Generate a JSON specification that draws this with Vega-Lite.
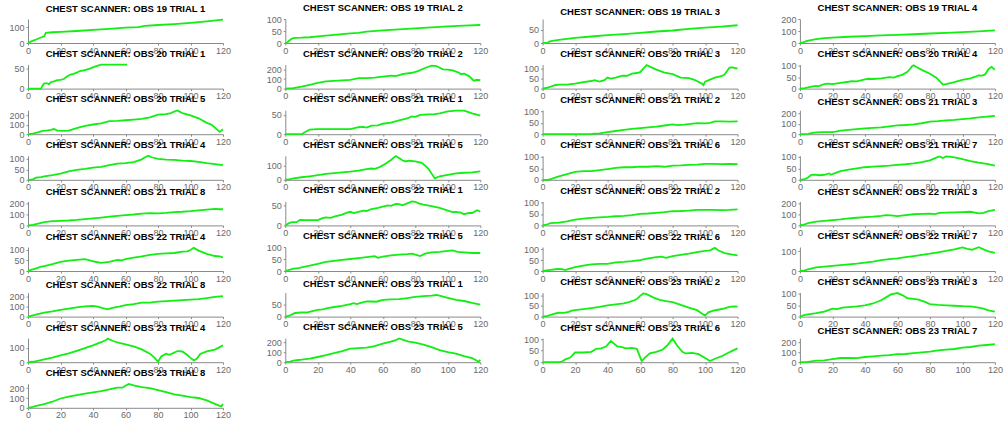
{
  "$schema": "https://vega.github.io/schema/vega-lite/v6.json",
  "columns": 4,
  "spacing": {"row": 21.6, "column": 62.3},
  "bounds": "flush",
  "padding": {"left": 8, "top": 2, "right": 5, "bottom": 5},
  "background": "white",
  "datasets": {
    "o19t1": [{"x":0,"y":0},{"x":2,"y":10},{"x":5,"y":22},{"x":8,"y":35},{"x":10,"y":42},{"x":11,"y":65},{"x":15,"y":68},{"x":20,"y":70},{"x":30,"y":76},{"x":40,"y":83},{"x":50,"y":90},{"x":60,"y":97},{"x":68,"y":100},{"x":72,"y":108},{"x":80,"y":114},{"x":90,"y":120},{"x":100,"y":128},{"x":110,"y":137},{"x":120,"y":148}],
    "o19t2": [{"x":0,"y":0},{"x":1,"y":0},{"x":2,"y":8},{"x":4,"y":18},{"x":6,"y":21},{"x":10,"y":22},{"x":15,"y":24},{"x":20,"y":28},{"x":30,"y":34},{"x":40,"y":40},{"x":45,"y":42},{"x":50,"y":47},{"x":60,"y":53},{"x":70,"y":57},{"x":80,"y":61},{"x":90,"y":65},{"x":100,"y":69},{"x":110,"y":72},{"x":120,"y":75}],
    "o19t3": [{"x":0,"y":0},{"x":3,"y":0},{"x":4,"y":5},{"x":6,"y":8},{"x":10,"y":12},{"x":15,"y":16},{"x":20,"y":20},{"x":30,"y":25},{"x":40,"y":30},{"x":50,"y":34},{"x":60,"y":39},{"x":70,"y":44},{"x":80,"y":48},{"x":90,"y":54},{"x":100,"y":59},{"x":110,"y":63},{"x":120,"y":68}],
    "o19t4": [{"x":0,"y":0},{"x":2,"y":5},{"x":4,"y":15},{"x":6,"y":22},{"x":10,"y":32},{"x":15,"y":40},{"x":20,"y":45},{"x":30,"y":52},{"x":40,"y":58},{"x":50,"y":63},{"x":60,"y":68},{"x":70,"y":73},{"x":80,"y":79},{"x":90,"y":84},{"x":100,"y":90},{"x":110,"y":97},{"x":120,"y":105}],
    "o20t1": [{"x":0,"y":0},{"x":8,"y":0},{"x":9,"y":8},{"x":10,"y":13},{"x":12,"y":13},{"x":13,"y":11},{"x":14,"y":16},{"x":16,"y":18},{"x":18,"y":21},{"x":20,"y":22},{"x":22,"y":24},{"x":24,"y":30},{"x":26,"y":35},{"x":28,"y":37},{"x":30,"y":40},{"x":32,"y":44},{"x":35,"y":46},{"x":38,"y":50},{"x":40,"y":53},{"x":42,"y":56},{"x":45,"y":60},{"x":50,"y":60},{"x":55,"y":60},{"x":61,"y":60}],
    "o20t2": [{"x":0,"y":0},{"x":5,"y":5},{"x":10,"y":20},{"x":15,"y":40},{"x":20,"y":60},{"x":25,"y":75},{"x":30,"y":80},{"x":40,"y":90},{"x":45,"y":110},{"x":50,"y":110},{"x":55,"y":115},{"x":60,"y":125},{"x":65,"y":135},{"x":68,"y":130},{"x":72,"y":150},{"x":78,"y":165},{"x":82,"y":185},{"x":86,"y":215},{"x":90,"y":240},{"x":93,"y":235},{"x":97,"y":200},{"x":100,"y":198},{"x":103,"y":190},{"x":107,"y":165},{"x":108,"y":150},{"x":110,"y":155},{"x":113,"y":130},{"x":116,"y":82},{"x":118,"y":92},{"x":120,"y":87}],
    "o20t3": [{"x":0,"y":0},{"x":2,"y":3},{"x":5,"y":10},{"x":8,"y":18},{"x":10,"y":20},{"x":15,"y":20},{"x":20,"y":25},{"x":25,"y":32},{"x":30,"y":38},{"x":32,"y":42},{"x":35,"y":35},{"x":38,"y":42},{"x":40,"y":55},{"x":42,"y":50},{"x":45,"y":55},{"x":48,"y":62},{"x":50,"y":65},{"x":52,"y":64},{"x":55,"y":75},{"x":58,"y":78},{"x":60,"y":82},{"x":62,"y":100},{"x":64,"y":118},{"x":66,"y":110},{"x":70,"y":95},{"x":75,"y":80},{"x":80,"y":72},{"x":85,"y":55},{"x":90,"y":52},{"x":93,"y":45},{"x":95,"y":38},{"x":98,"y":25},{"x":99,"y":17},{"x":100,"y":35},{"x":103,"y":45},{"x":106,"y":55},{"x":110,"y":62},{"x":112,"y":70},{"x":115,"y":105},{"x":117,"y":106},{"x":120,"y":100}],
    "o20t4": [{"x":0,"y":0},{"x":3,"y":2},{"x":5,"y":5},{"x":8,"y":10},{"x":10,"y":12},{"x":11,"y":10},{"x":13,"y":14},{"x":15,"y":20},{"x":17,"y":22},{"x":20,"y":20},{"x":25,"y":25},{"x":30,"y":30},{"x":32,"y":33},{"x":35,"y":32},{"x":40,"y":40},{"x":42,"y":43},{"x":45,"y":42},{"x":50,"y":45},{"x":55,"y":50},{"x":58,"y":48},{"x":60,"y":55},{"x":63,"y":60},{"x":66,"y":72},{"x":68,"y":88},{"x":69,"y":98},{"x":70,"y":102},{"x":72,"y":93},{"x":75,"y":82},{"x":80,"y":65},{"x":84,"y":48},{"x":87,"y":25},{"x":88,"y":18},{"x":90,"y":20},{"x":95,"y":28},{"x":100,"y":38},{"x":105,"y":45},{"x":108,"y":52},{"x":110,"y":58},{"x":112,"y":57},{"x":114,"y":62},{"x":116,"y":85},{"x":118,"y":95},{"x":120,"y":82}],
    "o20t5": [{"x":0,"y":0},{"x":3,"y":5},{"x":6,"y":20},{"x":9,"y":35},{"x":12,"y":40},{"x":14,"y":45},{"x":16,"y":55},{"x":18,"y":38},{"x":22,"y":35},{"x":25,"y":38},{"x":28,"y":55},{"x":32,"y":75},{"x":36,"y":90},{"x":40,"y":103},{"x":45,"y":115},{"x":50,"y":138},{"x":55,"y":142},{"x":60,"y":148},{"x":65,"y":155},{"x":70,"y":162},{"x":75,"y":180},{"x":80,"y":207},{"x":85,"y":214},{"x":88,"y":225},{"x":90,"y":241},{"x":92,"y":252},{"x":95,"y":224},{"x":100,"y":200},{"x":105,"y":169},{"x":110,"y":121},{"x":113,"y":100},{"x":115,"y":70},{"x":118,"y":25},{"x":120,"y":52}],
    "o21t1": [{"x":0,"y":0},{"x":10,"y":0},{"x":12,"y":5},{"x":15,"y":12},{"x":20,"y":13},{"x":30,"y":13},{"x":40,"y":13},{"x":45,"y":18},{"x":48,"y":19},{"x":50,"y":17},{"x":53,"y":22},{"x":57,"y":23},{"x":60,"y":27},{"x":65,"y":30},{"x":70,"y":36},{"x":75,"y":41},{"x":78,"y":46},{"x":80,"y":45},{"x":83,"y":50},{"x":88,"y":51},{"x":92,"y":52},{"x":95,"y":54},{"x":100,"y":59},{"x":105,"y":61},{"x":110,"y":61},{"x":115,"y":54},{"x":120,"y":48}],
    "o21t2": [{"x":0,"y":0},{"x":25,"y":0},{"x":30,"y":1},{"x":35,"y":4},{"x":40,"y":9},{"x":45,"y":14},{"x":50,"y":19},{"x":55,"y":23},{"x":60,"y":27},{"x":65,"y":30},{"x":70,"y":33},{"x":75,"y":38},{"x":80,"y":43},{"x":83,"y":40},{"x":87,"y":42},{"x":90,"y":44},{"x":95,"y":48},{"x":100,"y":47},{"x":103,"y":50},{"x":106,"y":56},{"x":110,"y":56},{"x":115,"y":55},{"x":120,"y":56}],
    "o21t3": [{"x":0,"y":0},{"x":5,"y":3},{"x":8,"y":12},{"x":10,"y":18},{"x":15,"y":20},{"x":20,"y":20},{"x":22,"y":25},{"x":25,"y":35},{"x":30,"y":42},{"x":35,"y":48},{"x":40,"y":55},{"x":45,"y":60},{"x":50,"y":65},{"x":55,"y":75},{"x":60,"y":85},{"x":65,"y":88},{"x":70,"y":95},{"x":75,"y":105},{"x":80,"y":120},{"x":85,"y":125},{"x":90,"y":132},{"x":95,"y":137},{"x":100,"y":145},{"x":105,"y":152},{"x":110,"y":162},{"x":115,"y":168},{"x":120,"y":175}],
    "o21t4": [{"x":0,"y":0},{"x":3,"y":2},{"x":5,"y":10},{"x":8,"y":13},{"x":10,"y":16},{"x":15,"y":22},{"x":20,"y":30},{"x":25,"y":40},{"x":30,"y":48},{"x":35,"y":52},{"x":40,"y":58},{"x":45,"y":62},{"x":50,"y":70},{"x":55,"y":78},{"x":60,"y":80},{"x":65,"y":85},{"x":70,"y":98},{"x":72,"y":108},{"x":74,"y":115},{"x":76,"y":108},{"x":80,"y":100},{"x":85,"y":97},{"x":90,"y":95},{"x":95,"y":92},{"x":100,"y":90},{"x":105,"y":86},{"x":110,"y":80},{"x":115,"y":75},{"x":120,"y":70}],
    "o21t5": [{"x":0,"y":0},{"x":3,"y":5},{"x":5,"y":10},{"x":10,"y":18},{"x":15,"y":25},{"x":20,"y":33},{"x":25,"y":42},{"x":30,"y":48},{"x":35,"y":53},{"x":40,"y":58},{"x":45,"y":65},{"x":50,"y":75},{"x":53,"y":80},{"x":55,"y":78},{"x":58,"y":90},{"x":62,"y":115},{"x":65,"y":140},{"x":68,"y":168},{"x":70,"y":155},{"x":72,"y":138},{"x":74,"y":130},{"x":76,"y":135},{"x":80,"y":130},{"x":84,"y":120},{"x":88,"y":80},{"x":92,"y":10},{"x":95,"y":25},{"x":100,"y":35},{"x":105,"y":45},{"x":110,"y":50},{"x":115,"y":52},{"x":120,"y":60}],
    "o21t6": [{"x":0,"y":0},{"x":3,"y":0},{"x":5,"y":3},{"x":10,"y":15},{"x":15,"y":25},{"x":20,"y":35},{"x":25,"y":38},{"x":30,"y":38},{"x":35,"y":42},{"x":40,"y":47},{"x":45,"y":52},{"x":50,"y":55},{"x":55,"y":55},{"x":60,"y":58},{"x":65,"y":57},{"x":70,"y":60},{"x":75,"y":57},{"x":80,"y":62},{"x":85,"y":63},{"x":90,"y":65},{"x":95,"y":66},{"x":100,"y":70},{"x":105,"y":70},{"x":110,"y":69},{"x":115,"y":70},{"x":120,"y":68}],
    "o21t7": [{"x":0,"y":0},{"x":3,"y":3},{"x":5,"y":10},{"x":7,"y":22},{"x":9,"y":23},{"x":12,"y":20},{"x":15,"y":22},{"x":18,"y":28},{"x":19,"y":22},{"x":22,"y":30},{"x":25,"y":38},{"x":30,"y":45},{"x":35,"y":50},{"x":40,"y":55},{"x":45,"y":58},{"x":50,"y":60},{"x":55,"y":62},{"x":60,"y":65},{"x":65,"y":68},{"x":70,"y":72},{"x":75,"y":77},{"x":80,"y":85},{"x":84,"y":97},{"x":86,"y":102},{"x":88,"y":95},{"x":90,"y":102},{"x":93,"y":100},{"x":96,"y":97},{"x":100,"y":90},{"x":105,"y":82},{"x":110,"y":75},{"x":115,"y":70},{"x":120,"y":62}],
    "o21t8": [{"x":0,"y":0},{"x":3,"y":5},{"x":5,"y":12},{"x":10,"y":30},{"x":15,"y":40},{"x":20,"y":42},{"x":25,"y":45},{"x":30,"y":50},{"x":35,"y":58},{"x":40,"y":65},{"x":45,"y":72},{"x":50,"y":80},{"x":55,"y":88},{"x":60,"y":95},{"x":65,"y":100},{"x":70,"y":108},{"x":75,"y":112},{"x":80,"y":110},{"x":85,"y":115},{"x":90,"y":122},{"x":95,"y":125},{"x":100,"y":130},{"x":105,"y":137},{"x":110,"y":145},{"x":115,"y":152},{"x":118,"y":148},{"x":120,"y":148}],
    "o22t1": [{"x":0,"y":0},{"x":2,"y":5},{"x":4,"y":8},{"x":7,"y":8},{"x":9,"y":14},{"x":12,"y":13},{"x":20,"y":13},{"x":23,"y":18},{"x":25,"y":20},{"x":28,"y":19},{"x":30,"y":22},{"x":35,"y":27},{"x":38,"y":32},{"x":40,"y":34},{"x":42,"y":31},{"x":45,"y":34},{"x":48,"y":37},{"x":50,"y":36},{"x":53,"y":41},{"x":57,"y":44},{"x":60,"y":47},{"x":63,"y":50},{"x":65,"y":49},{"x":68,"y":54},{"x":70,"y":53},{"x":72,"y":50},{"x":75,"y":55},{"x":78,"y":60},{"x":80,"y":59},{"x":82,"y":55},{"x":85,"y":52},{"x":90,"y":48},{"x":95,"y":44},{"x":100,"y":37},{"x":103,"y":33},{"x":105,"y":34},{"x":108,"y":32},{"x":110,"y":28},{"x":113,"y":31},{"x":115,"y":31},{"x":118,"y":38},{"x":120,"y":34}],
    "o22t2": [{"x":0,"y":0},{"x":3,"y":5},{"x":5,"y":10},{"x":10,"y":12},{"x":15,"y":18},{"x":20,"y":25},{"x":25,"y":30},{"x":30,"y":33},{"x":35,"y":35},{"x":40,"y":37},{"x":45,"y":40},{"x":50,"y":42},{"x":55,"y":45},{"x":60,"y":50},{"x":65,"y":52},{"x":70,"y":55},{"x":75,"y":58},{"x":80,"y":62},{"x":85,"y":63},{"x":90,"y":65},{"x":95,"y":68},{"x":100,"y":68},{"x":105,"y":68},{"x":110,"y":67},{"x":115,"y":68},{"x":120,"y":70}],
    "o22t3": [{"x":0,"y":0},{"x":3,"y":10},{"x":5,"y":20},{"x":10,"y":35},{"x":15,"y":42},{"x":20,"y":48},{"x":25,"y":55},{"x":30,"y":65},{"x":35,"y":70},{"x":40,"y":75},{"x":45,"y":80},{"x":50,"y":88},{"x":53,"y":95},{"x":56,"y":92},{"x":60,"y":85},{"x":65,"y":95},{"x":70,"y":102},{"x":75,"y":105},{"x":80,"y":108},{"x":83,"y":103},{"x":86,"y":115},{"x":90,"y":118},{"x":95,"y":120},{"x":100,"y":122},{"x":105,"y":125},{"x":110,"y":110},{"x":113,"y":115},{"x":116,"y":130},{"x":120,"y":142}],
    "o22t4": [{"x":0,"y":0},{"x":2,"y":5},{"x":5,"y":12},{"x":8,"y":20},{"x":10,"y":23},{"x":15,"y":32},{"x":20,"y":43},{"x":22,"y":45},{"x":25,"y":48},{"x":30,"y":52},{"x":35,"y":55},{"x":38,"y":50},{"x":42,"y":42},{"x":45,"y":38},{"x":50,"y":43},{"x":55,"y":52},{"x":58,"y":50},{"x":60,"y":56},{"x":65,"y":62},{"x":70,"y":68},{"x":75,"y":75},{"x":80,"y":80},{"x":85,"y":82},{"x":90,"y":84},{"x":95,"y":90},{"x":98,"y":92},{"x":100,"y":98},{"x":102,"y":108},{"x":105,"y":95},{"x":110,"y":80},{"x":115,"y":70},{"x":118,"y":68},{"x":120,"y":63}],
    "o22t5": [{"x":0,"y":0},{"x":2,"y":4},{"x":5,"y":10},{"x":8,"y":12},{"x":10,"y":15},{"x":15,"y":22},{"x":20,"y":30},{"x":25,"y":38},{"x":30,"y":42},{"x":35,"y":46},{"x":40,"y":50},{"x":45,"y":54},{"x":50,"y":58},{"x":55,"y":62},{"x":57,"y":55},{"x":60,"y":60},{"x":65,"y":65},{"x":70,"y":68},{"x":75,"y":70},{"x":78,"y":72},{"x":80,"y":68},{"x":83,"y":62},{"x":86,"y":72},{"x":90,"y":78},{"x":95,"y":80},{"x":100,"y":84},{"x":103,"y":86},{"x":106,"y":80},{"x":110,"y":78},{"x":115,"y":75},{"x":120,"y":75}],
    "o22t6": [{"x":0,"y":0},{"x":5,"y":5},{"x":8,"y":8},{"x":10,"y":10},{"x":12,"y":8},{"x":14,"y":4},{"x":16,"y":10},{"x":20,"y":18},{"x":25,"y":25},{"x":30,"y":30},{"x":35,"y":33},{"x":40,"y":33},{"x":45,"y":40},{"x":50,"y":42},{"x":55,"y":45},{"x":60,"y":50},{"x":65,"y":58},{"x":70,"y":64},{"x":73,"y":66},{"x":76,"y":60},{"x":80,"y":68},{"x":85,"y":74},{"x":90,"y":80},{"x":95,"y":87},{"x":100,"y":92},{"x":103,"y":95},{"x":106,"y":106},{"x":108,"y":95},{"x":112,"y":82},{"x":116,"y":76},{"x":120,"y":72}],
    "o22t7": [{"x":0,"y":0},{"x":3,"y":3},{"x":5,"y":8},{"x":10,"y":18},{"x":15,"y":22},{"x":20,"y":26},{"x":25,"y":30},{"x":30,"y":34},{"x":35,"y":38},{"x":40,"y":43},{"x":45,"y":48},{"x":50,"y":55},{"x":55,"y":60},{"x":60,"y":64},{"x":65,"y":70},{"x":70,"y":76},{"x":75,"y":82},{"x":80,"y":88},{"x":85,"y":95},{"x":90,"y":102},{"x":95,"y":110},{"x":100,"y":120},{"x":103,"y":112},{"x":106,"y":108},{"x":110,"y":121},{"x":113,"y":110},{"x":116,"y":100},{"x":120,"y":92}],
    "o22t8": [{"x":0,"y":0},{"x":3,"y":12},{"x":6,"y":25},{"x":10,"y":40},{"x":15,"y":52},{"x":20,"y":68},{"x":25,"y":80},{"x":30,"y":92},{"x":35,"y":102},{"x":40,"y":108},{"x":43,"y":100},{"x":46,"y":85},{"x":49,"y":72},{"x":52,"y":88},{"x":56,"y":100},{"x":60,"y":115},{"x":65,"y":125},{"x":70,"y":140},{"x":75,"y":140},{"x":80,"y":150},{"x":85,"y":155},{"x":90,"y":160},{"x":95,"y":165},{"x":100,"y":170},{"x":105,"y":175},{"x":110,"y":185},{"x":115,"y":198},{"x":120,"y":205}],
    "o23t1": [{"x":0,"y":0},{"x":3,"y":5},{"x":6,"y":15},{"x":10,"y":17},{"x":13,"y":17},{"x":16,"y":22},{"x":20,"y":28},{"x":23,"y":30},{"x":26,"y":35},{"x":30,"y":40},{"x":35,"y":45},{"x":40,"y":52},{"x":42,"y":56},{"x":44,"y":52},{"x":47,"y":58},{"x":50,"y":63},{"x":53,"y":63},{"x":56,"y":62},{"x":60,"y":70},{"x":65,"y":72},{"x":70,"y":73},{"x":75,"y":77},{"x":80,"y":82},{"x":85,"y":85},{"x":90,"y":87},{"x":93,"y":90},{"x":96,"y":85},{"x":100,"y":78},{"x":105,"y":70},{"x":110,"y":65},{"x":115,"y":57},{"x":120,"y":50}],
    "o23t2": [{"x":0,"y":0},{"x":3,"y":3},{"x":5,"y":8},{"x":8,"y":15},{"x":10,"y":18},{"x":13,"y":17},{"x":16,"y":22},{"x":18,"y":28},{"x":20,"y":30},{"x":25,"y":35},{"x":30,"y":40},{"x":35,"y":45},{"x":40,"y":52},{"x":45,"y":57},{"x":50,"y":62},{"x":53,"y":68},{"x":56,"y":75},{"x":58,"y":82},{"x":60,"y":97},{"x":62,"y":108},{"x":64,"y":105},{"x":68,"y":90},{"x":72,"y":78},{"x":76,"y":72},{"x":80,"y":68},{"x":85,"y":55},{"x":90,"y":42},{"x":95,"y":30},{"x":98,"y":15},{"x":100,"y":5},{"x":102,"y":20},{"x":105,"y":28},{"x":108,"y":32},{"x":112,"y":38},{"x":115,"y":45},{"x":118,"y":48},{"x":120,"y":47}],
    "o23t3": [{"x":0,"y":0},{"x":3,"y":8},{"x":5,"y":10},{"x":10,"y":15},{"x":15,"y":22},{"x":18,"y":30},{"x":20,"y":35},{"x":23,"y":33},{"x":26,"y":40},{"x":30,"y":42},{"x":35,"y":45},{"x":40,"y":50},{"x":45,"y":58},{"x":50,"y":72},{"x":53,"y":85},{"x":56,"y":98},{"x":60,"y":104},{"x":63,"y":95},{"x":66,"y":82},{"x":70,"y":78},{"x":73,"y":75},{"x":77,"y":65},{"x":80,"y":55},{"x":85,"y":52},{"x":90,"y":50},{"x":95,"y":48},{"x":100,"y":46},{"x":105,"y":45},{"x":110,"y":40},{"x":113,"y":35},{"x":116,"y":28},{"x":120,"y":22}],
    "o23t4": [{"x":0,"y":0},{"x":3,"y":3},{"x":6,"y":10},{"x":10,"y":20},{"x":15,"y":32},{"x":20,"y":48},{"x":25,"y":62},{"x":30,"y":80},{"x":35,"y":98},{"x":40,"y":118},{"x":45,"y":140},{"x":48,"y":155},{"x":49,"y":165},{"x":52,"y":150},{"x":55,"y":138},{"x":60,"y":125},{"x":65,"y":110},{"x":70,"y":90},{"x":75,"y":60},{"x":78,"y":30},{"x":80,"y":3},{"x":82,"y":40},{"x":85,"y":60},{"x":87,"y":52},{"x":89,"y":62},{"x":92,"y":78},{"x":95,"y":75},{"x":98,"y":50},{"x":100,"y":30},{"x":102,"y":12},{"x":104,"y":25},{"x":106,"y":58},{"x":110,"y":75},{"x":115,"y":88},{"x":120,"y":118}],
    "o23t5": [{"x":0,"y":0},{"x":3,"y":5},{"x":5,"y":15},{"x":8,"y":22},{"x":10,"y":25},{"x":15,"y":35},{"x":20,"y":52},{"x":25,"y":70},{"x":30,"y":90},{"x":35,"y":110},{"x":40,"y":135},{"x":45,"y":140},{"x":50,"y":145},{"x":55,"y":160},{"x":60,"y":185},{"x":65,"y":205},{"x":68,"y":220},{"x":70,"y":238},{"x":73,"y":220},{"x":76,"y":205},{"x":80,"y":195},{"x":85,"y":175},{"x":90,"y":150},{"x":95,"y":120},{"x":100,"y":100},{"x":105,"y":85},{"x":110,"y":60},{"x":115,"y":40},{"x":118,"y":15},{"x":119,"y":5},{"x":120,"y":25}],
    "o23t6": [{"x":0,"y":0},{"x":5,"y":0},{"x":10,"y":0},{"x":12,"y":3},{"x":14,"y":12},{"x":17,"y":20},{"x":20,"y":42},{"x":25,"y":42},{"x":30,"y":45},{"x":33,"y":58},{"x":36,"y":60},{"x":39,"y":68},{"x":42,"y":92},{"x":44,"y":80},{"x":46,"y":68},{"x":49,"y":65},{"x":51,"y":60},{"x":55,"y":62},{"x":58,"y":58},{"x":61,"y":5},{"x":63,"y":20},{"x":66,"y":38},{"x":70,"y":45},{"x":74,"y":55},{"x":77,"y":75},{"x":80,"y":102},{"x":83,"y":70},{"x":86,"y":45},{"x":88,"y":38},{"x":92,"y":40},{"x":96,"y":35},{"x":100,"y":18},{"x":103,"y":5},{"x":106,"y":15},{"x":110,"y":25},{"x":114,"y":40},{"x":117,"y":50},{"x":120,"y":60}],
    "o23t7": [{"x":0,"y":0},{"x":4,"y":0},{"x":6,"y":5},{"x":10,"y":15},{"x":15,"y":18},{"x":20,"y":30},{"x":25,"y":42},{"x":30,"y":42},{"x":35,"y":40},{"x":40,"y":52},{"x":45,"y":58},{"x":50,"y":65},{"x":55,"y":70},{"x":60,"y":80},{"x":65,"y":82},{"x":70,"y":90},{"x":75,"y":98},{"x":80,"y":105},{"x":85,"y":118},{"x":90,"y":125},{"x":95,"y":132},{"x":100,"y":145},{"x":105,"y":152},{"x":110,"y":165},{"x":115,"y":172},{"x":120,"y":180}],
    "o23t8": [{"x":0,"y":0},{"x":3,"y":10},{"x":5,"y":20},{"x":10,"y":38},{"x":15,"y":62},{"x":20,"y":95},{"x":25,"y":115},{"x":30,"y":130},{"x":35,"y":145},{"x":40,"y":157},{"x":45,"y":170},{"x":50,"y":188},{"x":55,"y":205},{"x":58,"y":205},{"x":60,"y":225},{"x":62,"y":243},{"x":65,"y":228},{"x":70,"y":212},{"x":75,"y":200},{"x":80,"y":180},{"x":85,"y":160},{"x":90,"y":138},{"x":95,"y":125},{"x":100,"y":110},{"x":105,"y":100},{"x":110,"y":75},{"x":115,"y":40},{"x":118,"y":20},{"x":119,"y":15},{"x":120,"y":40}]
  },
  "concat": [
    {"title": "CHEST SCANNER: OBS 19 TRIAL 1", "data": {"name": "o19t1"}, "mark": "line", "encoding": {"x": {"field": "x", "type": "quantitative", "scale": {"domain": [0, 120]}, "title": null}, "y": {"field": "y", "type": "quantitative", "scale": {"domain": [0, 152], "nice": false}, "axis": {"values": [0, 100]}, "title": null}}},
    {"title": "CHEST SCANNER: OBS 19 TRIAL 2", "data": {"name": "o19t2"}, "mark": "line", "encoding": {"x": {"field": "x", "type": "quantitative", "scale": {"domain": [0, 120]}, "title": null}, "y": {"field": "y", "type": "quantitative", "scale": {"domain": [0, 100], "nice": false}, "axis": {"values": [0, 50, 100]}, "title": null}}},
    {"title": "CHEST SCANNER: OBS 19 TRIAL 3", "data": {"name": "o19t3"}, "mark": "line", "encoding": {"x": {"field": "x", "type": "quantitative", "scale": {"domain": [0, 120]}, "title": null}, "y": {"field": "y", "type": "quantitative", "scale": {"domain": [0, 92], "nice": false}, "axis": {"values": [0, 50]}, "title": null}}},
    {"title": "CHEST SCANNER: OBS 19 TRIAL 4", "data": {"name": "o19t4"}, "mark": "line", "encoding": {"x": {"field": "x", "type": "quantitative", "scale": {"domain": [0, 120]}, "title": null}, "y": {"field": "y", "type": "quantitative", "scale": {"domain": [0, 200], "nice": false}, "axis": {"values": [0, 100, 200]}, "title": null}}},
    {"title": "CHEST SCANNER: OBS 20 TRIAL 1", "data": {"name": "o20t1"}, "mark": "line", "encoding": {"x": {"field": "x", "type": "quantitative", "scale": {"domain": [0, 120]}, "title": null}, "y": {"field": "y", "type": "quantitative", "scale": {"domain": [0, 60], "nice": false}, "axis": {"values": [0, 50]}, "title": null}}},
    {"title": "CHEST SCANNER: OBS 20 TRIAL 2", "data": {"name": "o20t2"}, "mark": "line", "encoding": {"x": {"field": "x", "type": "quantitative", "scale": {"domain": [0, 120]}, "title": null}, "y": {"field": "y", "type": "quantitative", "scale": {"domain": [0, 250], "nice": false}, "axis": {"values": [0, 100, 200]}, "title": null}}},
    {"title": "CHEST SCANNER: OBS 20 TRIAL 3", "data": {"name": "o20t3"}, "mark": "line", "encoding": {"x": {"field": "x", "type": "quantitative", "scale": {"domain": [0, 120]}, "title": null}, "y": {"field": "y", "type": "quantitative", "scale": {"domain": [0, 120], "nice": false}, "axis": {"values": [0, 50, 100]}, "title": null}}},
    {"title": "CHEST SCANNER: OBS 20 TRIAL 4", "data": {"name": "o20t4"}, "mark": "line", "encoding": {"x": {"field": "x", "type": "quantitative", "scale": {"domain": [0, 120]}, "title": null}, "y": {"field": "y", "type": "quantitative", "scale": {"domain": [0, 105], "nice": false}, "axis": {"values": [0, 50, 100]}, "title": null}}},
    {"title": "CHEST SCANNER: OBS 20 TRIAL 5", "data": {"name": "o20t5"}, "mark": "line", "encoding": {"x": {"field": "x", "type": "quantitative", "scale": {"domain": [0, 120]}, "title": null}, "y": {"field": "y", "type": "quantitative", "scale": {"domain": [0, 255], "nice": false}, "axis": {"values": [0, 100, 200]}, "title": null}}},
    {"title": "CHEST SCANNER: OBS 21 TRIAL 1", "data": {"name": "o21t1"}, "mark": "line", "encoding": {"x": {"field": "x", "type": "quantitative", "scale": {"domain": [0, 120]}, "title": null}, "y": {"field": "y", "type": "quantitative", "scale": {"domain": [0, 62], "nice": false}, "axis": {"values": [0, 50]}, "title": null}}},
    {"title": "CHEST SCANNER: OBS 21 TRIAL 2", "data": {"name": "o21t2"}, "mark": "line", "encoding": {"x": {"field": "x", "type": "quantitative", "scale": {"domain": [0, 120]}, "title": null}, "y": {"field": "y", "type": "quantitative", "scale": {"domain": [0, 105], "nice": false}, "axis": {"values": [0, 50, 100]}, "title": null}}},
    {"title": "CHEST SCANNER: OBS 21 TRIAL 3", "data": {"name": "o21t3"}, "mark": "line", "encoding": {"x": {"field": "x", "type": "quantitative", "scale": {"domain": [0, 120]}, "title": null}, "y": {"field": "y", "type": "quantitative", "scale": {"domain": [0, 230], "nice": false}, "axis": {"values": [0, 100, 200]}, "title": null}}},
    {"title": "CHEST SCANNER: OBS 21 TRIAL 4", "data": {"name": "o21t4"}, "mark": "line", "encoding": {"x": {"field": "x", "type": "quantitative", "scale": {"domain": [0, 120]}, "title": null}, "y": {"field": "y", "type": "quantitative", "scale": {"domain": [0, 115], "nice": false}, "axis": {"values": [0, 50, 100]}, "title": null}}},
    {"title": "CHEST SCANNER: OBS 21 TRIAL 5", "data": {"name": "o21t5"}, "mark": "line", "encoding": {"x": {"field": "x", "type": "quantitative", "scale": {"domain": [0, 120]}, "title": null}, "y": {"field": "y", "type": "quantitative", "scale": {"domain": [0, 170], "nice": false}, "axis": {"values": [0, 100]}, "title": null}}},
    {"title": "CHEST SCANNER: OBS 21 TRIAL 6", "data": {"name": "o21t6"}, "mark": "line", "encoding": {"x": {"field": "x", "type": "quantitative", "scale": {"domain": [0, 120]}, "title": null}, "y": {"field": "y", "type": "quantitative", "scale": {"domain": [0, 105], "nice": false}, "axis": {"values": [0, 50, 100]}, "title": null}}},
    {"title": "CHEST SCANNER: OBS 21 TRIAL 7", "data": {"name": "o21t7"}, "mark": "line", "encoding": {"x": {"field": "x", "type": "quantitative", "scale": {"domain": [0, 120]}, "title": null}, "y": {"field": "y", "type": "quantitative", "scale": {"domain": [0, 105], "nice": false}, "axis": {"values": [0, 50, 100]}, "title": null}}},
    {"title": "CHEST SCANNER: OBS 21 TRIAL 8", "data": {"name": "o21t8"}, "mark": "line", "encoding": {"x": {"field": "x", "type": "quantitative", "scale": {"domain": [0, 120]}, "title": null}, "y": {"field": "y", "type": "quantitative", "scale": {"domain": [0, 220], "nice": false}, "axis": {"values": [0, 100, 200]}, "title": null}}},
    {"title": "CHEST SCANNER: OBS 22 TRIAL 1", "data": {"name": "o22t1"}, "mark": "line", "encoding": {"x": {"field": "x", "type": "quantitative", "scale": {"domain": [0, 120]}, "title": null}, "y": {"field": "y", "type": "quantitative", "scale": {"domain": [0, 60], "nice": false}, "axis": {"values": [0, 50]}, "title": null}}},
    {"title": "CHEST SCANNER: OBS 22 TRIAL 2", "data": {"name": "o22t2"}, "mark": "line", "encoding": {"x": {"field": "x", "type": "quantitative", "scale": {"domain": [0, 120]}, "title": null}, "y": {"field": "y", "type": "quantitative", "scale": {"domain": [0, 105], "nice": false}, "axis": {"values": [0, 50, 100]}, "title": null}}},
    {"title": "CHEST SCANNER: OBS 22 TRIAL 3", "data": {"name": "o22t3"}, "mark": "line", "encoding": {"x": {"field": "x", "type": "quantitative", "scale": {"domain": [0, 120]}, "title": null}, "y": {"field": "y", "type": "quantitative", "scale": {"domain": [0, 220], "nice": false}, "axis": {"values": [0, 100, 200]}, "title": null}}},
    {"title": "CHEST SCANNER: OBS 22 TRIAL 4", "data": {"name": "o22t4"}, "mark": "line", "encoding": {"x": {"field": "x", "type": "quantitative", "scale": {"domain": [0, 120]}, "title": null}, "y": {"field": "y", "type": "quantitative", "scale": {"domain": [0, 112], "nice": false}, "axis": {"values": [0, 50, 100]}, "title": null}}},
    {"title": "CHEST SCANNER: OBS 22 TRIAL 5", "data": {"name": "o22t5"}, "mark": "line", "encoding": {"x": {"field": "x", "type": "quantitative", "scale": {"domain": [0, 120]}, "title": null}, "y": {"field": "y", "type": "quantitative", "scale": {"domain": [0, 100], "nice": false}, "axis": {"values": [0, 50, 100]}, "title": null}}},
    {"title": "CHEST SCANNER: OBS 22 TRIAL 6", "data": {"name": "o22t6"}, "mark": "line", "encoding": {"x": {"field": "x", "type": "quantitative", "scale": {"domain": [0, 120]}, "title": null}, "y": {"field": "y", "type": "quantitative", "scale": {"domain": [0, 110], "nice": false}, "axis": {"values": [0, 50, 100]}, "title": null}}},
    {"title": "CHEST SCANNER: OBS 22 TRIAL 7", "data": {"name": "o22t7"}, "mark": "line", "encoding": {"x": {"field": "x", "type": "quantitative", "scale": {"domain": [0, 120]}, "title": null}, "y": {"field": "y", "type": "quantitative", "scale": {"domain": [0, 122], "nice": false}, "axis": {"values": [0, 100]}, "title": null}}},
    {"title": "CHEST SCANNER: OBS 22 TRIAL 8", "data": {"name": "o22t8"}, "mark": "line", "encoding": {"x": {"field": "x", "type": "quantitative", "scale": {"domain": [0, 120]}, "title": null}, "y": {"field": "y", "type": "quantitative", "scale": {"domain": [0, 240], "nice": false}, "axis": {"values": [0, 100, 200]}, "title": null}}},
    {"title": "CHEST SCANNER: OBS 23 TRIAL 1", "data": {"name": "o23t1"}, "mark": "line", "encoding": {"x": {"field": "x", "type": "quantitative", "scale": {"domain": [0, 120]}, "title": null}, "y": {"field": "y", "type": "quantitative", "scale": {"domain": [0, 100], "nice": false}, "axis": {"values": [0, 50]}, "title": null}}},
    {"title": "CHEST SCANNER: OBS 23 TRIAL 2", "data": {"name": "o23t2"}, "mark": "line", "encoding": {"x": {"field": "x", "type": "quantitative", "scale": {"domain": [0, 120]}, "title": null}, "y": {"field": "y", "type": "quantitative", "scale": {"domain": [0, 112], "nice": false}, "axis": {"values": [0, 50, 100]}, "title": null}}},
    {"title": "CHEST SCANNER: OBS 23 TRIAL 3", "data": {"name": "o23t3"}, "mark": "line", "encoding": {"x": {"field": "x", "type": "quantitative", "scale": {"domain": [0, 120]}, "title": null}, "y": {"field": "y", "type": "quantitative", "scale": {"domain": [0, 106], "nice": false}, "axis": {"values": [0, 50, 100]}, "title": null}}},
    {"title": "CHEST SCANNER: OBS 23 TRIAL 4", "data": {"name": "o23t4"}, "mark": "line", "encoding": {"x": {"field": "x", "type": "quantitative", "scale": {"domain": [0, 120]}, "title": null}, "y": {"field": "y", "type": "quantitative", "scale": {"domain": [0, 168], "nice": false}, "axis": {"values": [0, 100]}, "title": null}}},
    {"title": "CHEST SCANNER: OBS 23 TRIAL 5", "data": {"name": "o23t5"}, "mark": "line", "encoding": {"x": {"field": "x", "type": "quantitative", "scale": {"domain": [0, 120]}, "title": null}, "y": {"field": "y", "type": "quantitative", "scale": {"domain": [0, 240], "nice": false}, "axis": {"values": [0, 100, 200]}, "title": null}}},
    {"title": "CHEST SCANNER: OBS 23 TRIAL 6", "data": {"name": "o23t6"}, "mark": "line", "encoding": {"x": {"field": "x", "type": "quantitative", "scale": {"domain": [0, 120]}, "title": null}, "y": {"field": "y", "type": "quantitative", "scale": {"domain": [0, 104], "nice": false}, "axis": {"values": [0, 50, 100]}, "title": null}}},
    {"title": "CHEST SCANNER: OBS 23 TRIAL 7", "data": {"name": "o23t7"}, "mark": "line", "encoding": {"x": {"field": "x", "type": "quantitative", "scale": {"domain": [0, 120]}, "title": null}, "y": {"field": "y", "type": "quantitative", "scale": {"domain": [0, 240], "nice": false}, "axis": {"values": [0, 100, 200]}, "title": null}}},
    {"title": "CHEST SCANNER: OBS 23 TRIAL 8", "data": {"name": "o23t8"}, "mark": "line", "encoding": {"x": {"field": "x", "type": "quantitative", "scale": {"domain": [0, 120]}, "title": null}, "y": {"field": "y", "type": "quantitative", "scale": {"domain": [0, 245], "nice": false}, "axis": {"values": [0, 100, 200]}, "title": null}}}
  ],
  "config": {
    "view": {"continuousWidth": 195, "continuousHeight": 24, "stroke": null},
    "line": {"color": "#11ee11", "strokeWidth": 1.8, "clip": false},
    "title": {"font": "Liberation Sans", "fontSize": 9.5, "fontWeight": "bold", "color": "#000000", "offset": 3, "anchor": "middle"},
    "axis": {"grid": false, "domainColor": "#8a8a8a", "tickColor": "#8a8a8a", "tickSize": 2, "labelColor": "#6a6a6a", "labelFont": "Liberation Sans", "labelFontSize": 9, "labelPadding": 1, "labelOverlap": false, "labelFlush": false, "labelBound": false},
    "axisY": {"labelPadding": 2}
  }
}
